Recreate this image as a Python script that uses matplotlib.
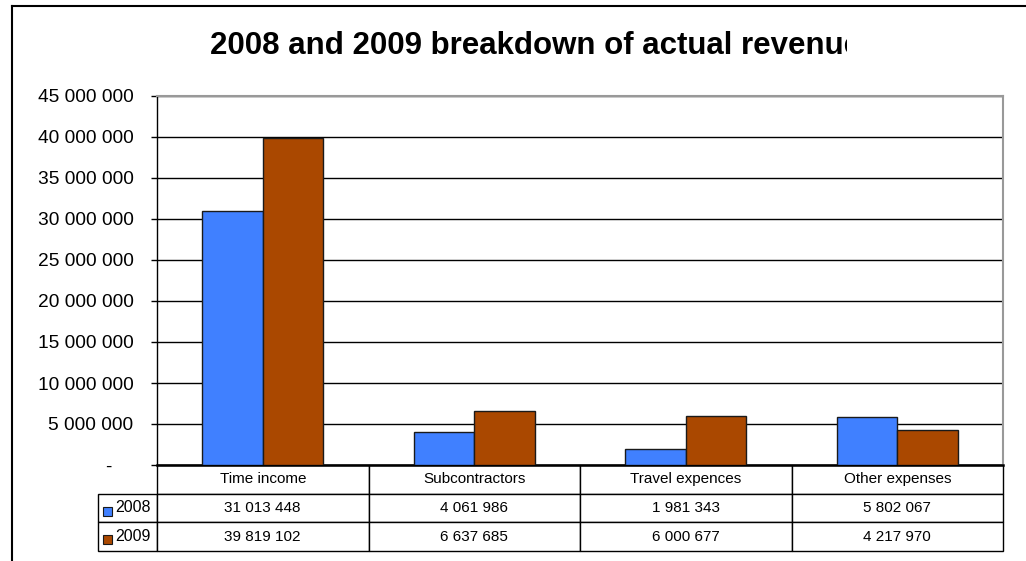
import numpy as np
import matplotlib
matplotlib.use("Agg")
import matplotlib.pyplot as plt
from matplotlib.patches import Rectangle
from matplotlib.lines import Line2D
from matplotlib.transforms import Bbox, TransformedBbox
from matplotlib.ticker import FuncFormatter, MultipleLocator

plt.rcParams['font.family'] = ['Liberation Sans', 'DejaVu Sans']

# data
categories = ["Time income", "Subcontractors", "Travel expences", "Other expenses"]
years = ["2008", "2009"]
values_2008 = [31013448, 4061986, 1981343, 5802067]
values_2009 = [39819102, 6637685, 6000677, 4217970]
colors = ["#4080FF", "#AA4800"]

W, H = 1026, 561
fig = plt.figure(figsize=(W / 100, H / 100), dpi=100)

# plot area in pixel terms
left, right, top, bottom = 157, 1003, 96, 465
pw, ph = right - left, bottom - top
ax = fig.add_axes([left / W, 1 - bottom / H, pw / W, ph / H])

# outer frame (only top and left are visible in the reference)
fig.add_artist(Line2D([12 / W, 12 / W], [0, 1 - 6 / H], transform=fig.transFigure, color="black", lw=1.5))
fig.add_artist(Line2D([12 / W, 1], [1 - 6 / H, 1 - 6 / H], transform=fig.transFigure, color="black", lw=1.5))

x = np.arange(len(categories))
bw = 1 / 3.5
for i, (vals, c) in enumerate(zip([values_2008, values_2009], colors)):
    ax.bar(x + (i - 0.5) * bw, vals, width=bw, color=c, edgecolor="#1a1a1a", linewidth=1.0, zorder=3)

ax.set_xlim(-0.5, len(categories) - 0.5)
ax.set_ylim(0, 45_000_000)
ax.yaxis.set_major_locator(MultipleLocator(5_000_000))


def fmt(v, pos):
    if v == 0:
        return "-    "
    return f"{int(v):,}".replace(",", " ")


ax.yaxis.set_major_formatter(FuncFormatter(fmt))
ax.tick_params(axis="y", length=4, width=1, pad=13, labelsize=13.8, color="black")
ax.set_xticks([])
ax.grid(axis="y", color="black", linewidth=1.0, zorder=0)
ax.set_axisbelow(True)
for s in ["top", "right"]:
    ax.spines[s].set_color("#999999")
    ax.spines[s].set_linewidth(1.5)
ax.spines["left"].set_linewidth(1.0)
ax.spines["bottom"].set_linewidth(1.8)

# data table under the plot
cell_text = [[f"{v:,}".replace(",", " ") for v in vals] for vals in [values_2008, values_2009]]
tab_bottom = 551
tab = ax.table(cellText=cell_text, rowLabels=years, colLabels=categories,
               cellLoc="center", rowLoc="right", colLoc="center",
               bbox=[0, -(tab_bottom - bottom) / ph, 1, (tab_bottom - bottom) / ph])
tab._autoColumns = []
tab.auto_set_font_size(False)
tab.set_fontsize(11)
for (r, c), cell in tab.get_celld().items():
    cell.set_linewidth(1.0)
    cell.set_edgecolor("black")
    if c == -1:
        cell.set_width(59 / pw)
        cell.set_fontsize(11.5)

# legend keys inside the row label cells
for r, c in enumerate(colors):
    y0 = 516 + r * 28
    ax.add_patch(Rectangle(((103 - left) / pw, (bottom - y0) / ph), 9 / pw, 9 / ph,
                           transform=ax.transAxes, facecolor=c, edgecolor="#1a1a1a",
                           linewidth=0.8, clip_on=False, zorder=5))

# title, cut off on the right as in the reference
t = fig.text(210 / W, 1 - 54 / H, "2008 and 2009 breakdown of actual revenue",
             fontsize=22.5, fontweight="bold", ha="left", va="baseline")
t.set_clip_box(TransformedBbox(Bbox([[0, 0], [847 / W, 1]]), fig.transFigure))
t.set_clip_on(True)

fig.savefig("out.png", dpi=100)
